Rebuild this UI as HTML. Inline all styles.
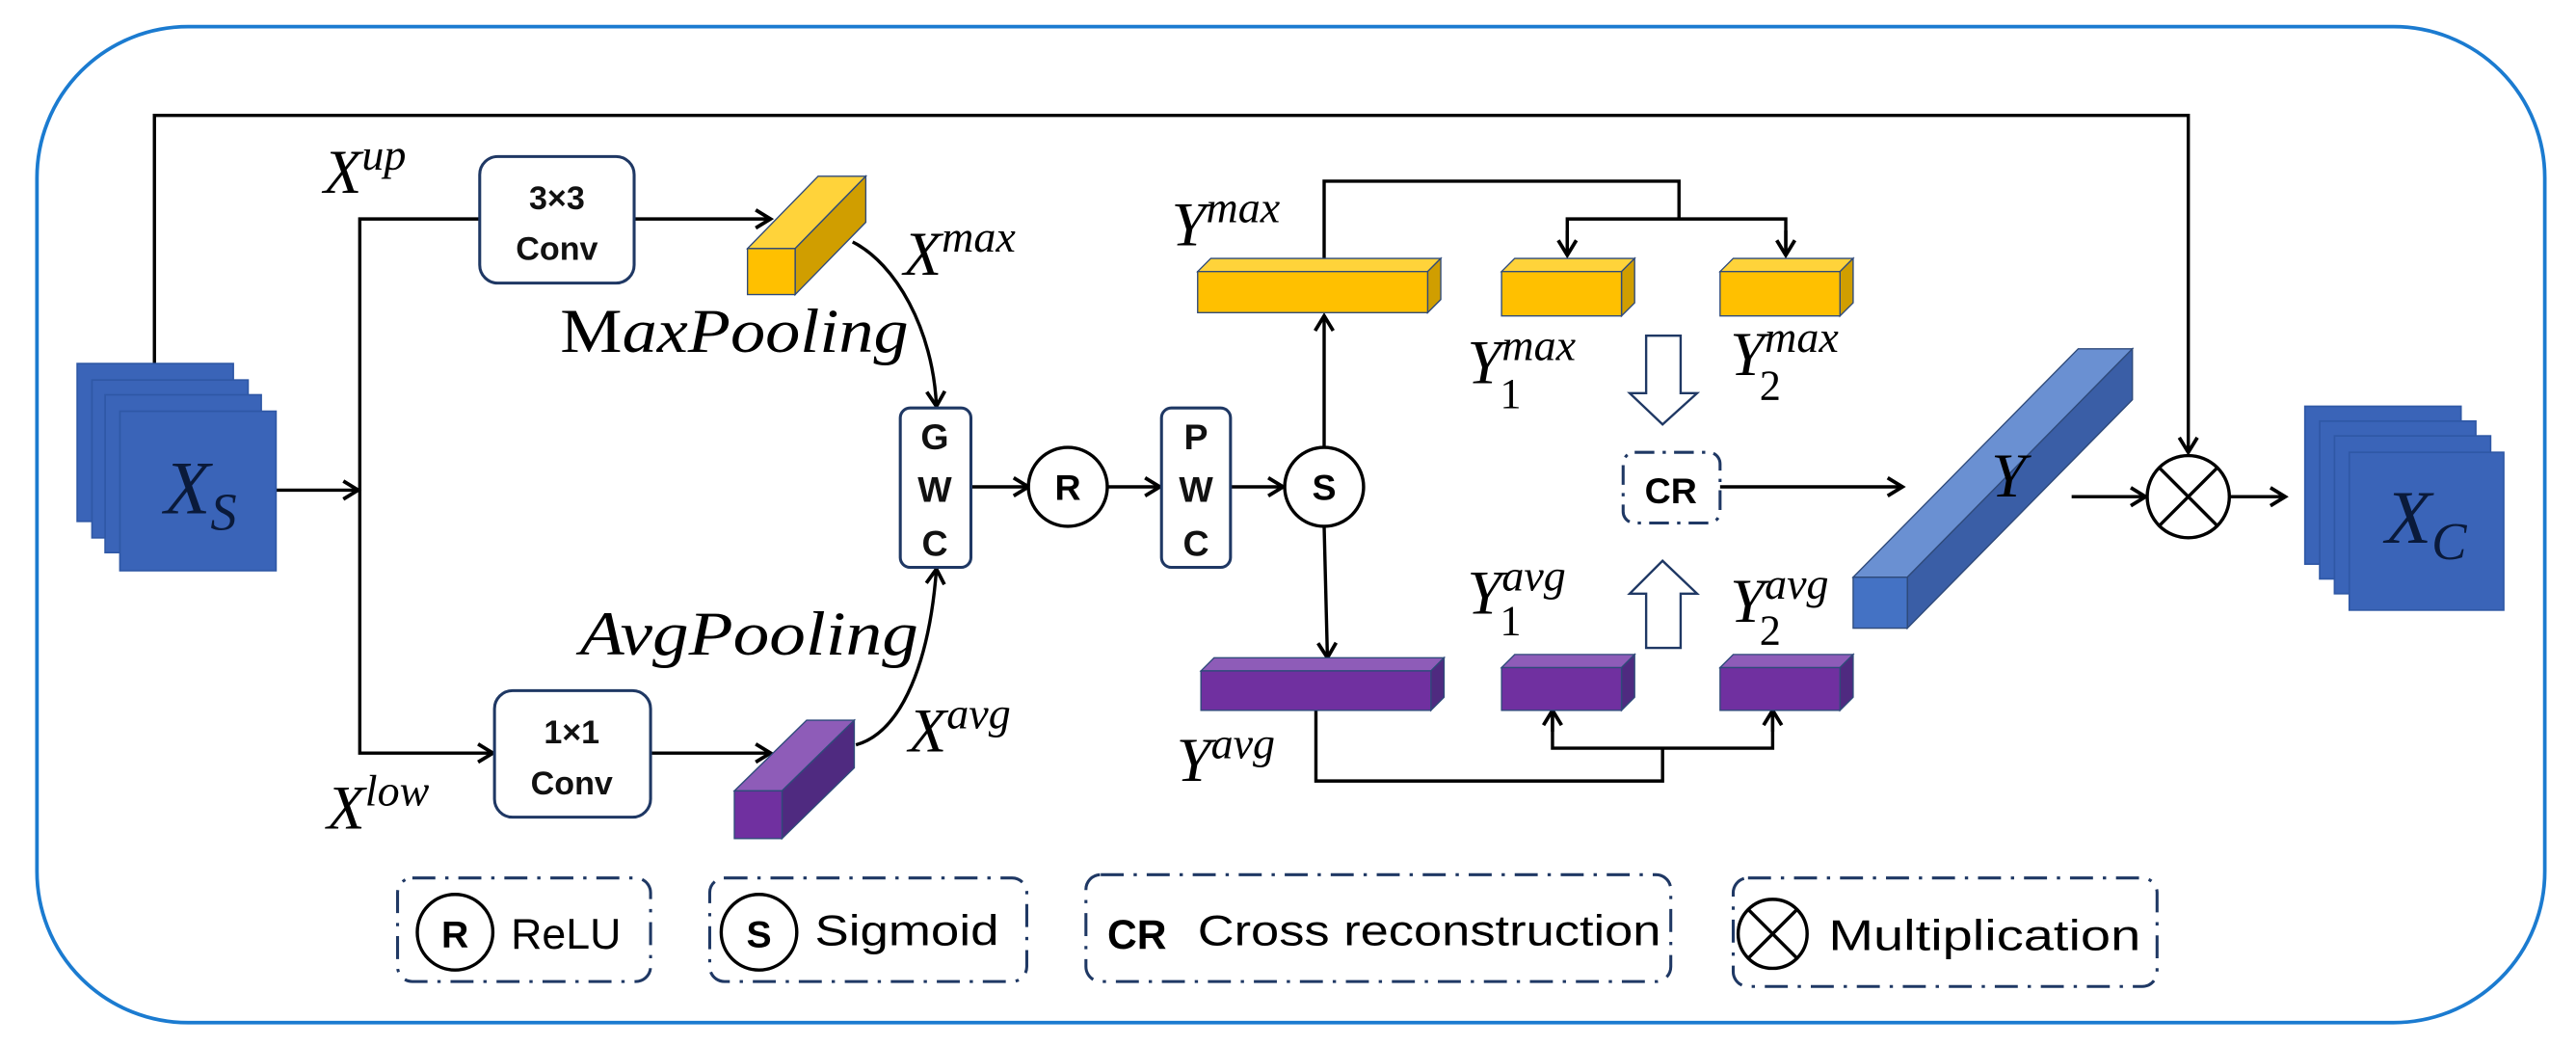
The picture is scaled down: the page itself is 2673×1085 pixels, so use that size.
<!DOCTYPE html>
<html><head><meta charset="utf-8"><style>html,body{margin:0;padding:0;background:#fff}svg{display:block}</style></head>
<body>
<svg width="2673" height="1085" viewBox="0 0 1568 636" xmlns="http://www.w3.org/2000/svg">
<defs>
<marker id="a" markerWidth="14" markerHeight="14" refX="11" refY="7" orient="auto" markerUnits="userSpaceOnUse">
<path d="M2,1.5 L11,7 L2,12.5" fill="none" stroke="#000" stroke-width="2.2"/>
</marker>
</defs>
<rect x="22.5" y="16" width="1526.5" height="606" rx="92" ry="92" fill="none" stroke="#1b7bd0" stroke-width="2.2"/>

<g fill="none" stroke="#000" stroke-width="2">
<polyline points="94,222 94,70 1332,70 1332,275" marker-end="url(#a)"/>
<line x1="168" y1="298" x2="218" y2="298" marker-end="url(#a)"/>
<polyline points="292,133 219,133 219,458 300,458" marker-end="url(#a)"/>
<line x1="386" y1="133" x2="469" y2="133" marker-end="url(#a)"/>
<line x1="396" y1="458" x2="469" y2="458" marker-end="url(#a)"/>
<path d="M519,147 C545,160 568,200 570,247" marker-end="url(#a)"/>
<path d="M521,453 C550,445 566,400 570,346" marker-end="url(#a)"/>
<line x1="591" y1="296" x2="626" y2="296" marker-end="url(#a)"/>
<line x1="674" y1="296" x2="706" y2="296" marker-end="url(#a)"/>
<line x1="749" y1="296" x2="781" y2="296" marker-end="url(#a)"/>
<line x1="806" y1="272" x2="806" y2="192" marker-end="url(#a)"/>
<line x1="806" y1="320" x2="808" y2="400" marker-end="url(#a)"/>
<polyline points="806,158 806,110 1022,110 1022,133"/>
<polyline points="954,155 954,133 1087,133 1087,155" />
<line x1="954" y1="140" x2="954" y2="155" marker-end="url(#a)"/>
<line x1="1087" y1="140" x2="1087" y2="155" marker-end="url(#a)"/>
<polyline points="801,432 801,475 1012,475 1012,455"/>
<polyline points="945,432 945,455 1079,455 1079,432"/>
<line x1="945" y1="445" x2="945" y2="432" marker-end="url(#a)"/>
<line x1="1079" y1="445" x2="1079" y2="432" marker-end="url(#a)"/>
<line x1="1047" y1="296" x2="1158" y2="296" marker-end="url(#a)"/>
<line x1="1261" y1="302" x2="1306" y2="302" marker-end="url(#a)"/>
<line x1="1357" y1="302" x2="1391" y2="302" marker-end="url(#a)"/>
</g>

<g fill="#3a64b8" stroke="#2f58a6" stroke-width="1">
<rect x="47" y="221" width="95" height="96"/>
<rect x="56" y="231" width="95" height="96"/>
<rect x="64" y="240" width="95" height="96"/>
<rect x="73" y="250" width="95" height="97"/>
</g>
<text x="100" y="312" font-family="Liberation Serif" font-style="italic" font-size="46" fill="#0a1a3a">X<tspan font-size="32" dy="10">S</tspan></text>
<g fill="#3a64b8" stroke="#2f58a6" stroke-width="1">
<rect x="1403" y="247" width="95" height="96"/>
<rect x="1412" y="256" width="95" height="96"/>
<rect x="1421" y="265" width="95" height="96"/>
<rect x="1430" y="275" width="94" height="96"/>
</g>
<text x="1452" y="330" font-family="Liberation Serif" font-style="italic" font-size="46" fill="#0a1a3a">X<tspan font-size="32" dy="10">C</tspan></text>

<g fill="#fff" stroke="#1f3864" stroke-width="1.8">
<rect x="292" y="95" width="94" height="77" rx="11"/>
<rect x="301" y="420" width="95" height="77" rx="11"/>
<rect x="548" y="248" width="43" height="97" rx="6"/>
<rect x="707" y="248" width="42" height="97" rx="6"/>
</g>
<g font-family="Liberation Sans" font-weight="bold" font-size="20" text-anchor="middle" fill="#111">
<text x="339" y="127">3×3</text><text x="339" y="158">Conv</text>
<text x="348" y="452">1×1</text><text x="348" y="483">Conv</text>
</g>
<g font-family="Liberation Sans" font-weight="bold" font-size="22" text-anchor="middle" fill="#111">
<text x="569" y="273">G</text><text x="569" y="305">W</text><text x="569" y="338">C</text>
<text x="728" y="273">P</text><text x="728" y="305">W</text><text x="728" y="338">C</text>
</g>
<g fill="#fff" stroke="#000" stroke-width="2">
<circle cx="650" cy="296" r="24"/>
<circle cx="806" cy="296" r="24"/>
<circle cx="1332" cy="302" r="25"/>
</g>
<line x1="1314" y1="284" x2="1350" y2="320" stroke="#000" stroke-width="2"/>
<line x1="1350" y1="284" x2="1314" y2="320" stroke="#000" stroke-width="2"/>
<g font-family="Liberation Sans" font-weight="bold" font-size="22" text-anchor="middle" fill="#000">
<text x="650" y="304">R</text><text x="806" y="304">S</text>
</g>

<g stroke="#2f4a7a" stroke-width="0.8">
<polygon points="455,151 498,107 527,107 484,151" fill="#ffd33a"/>
<polygon points="484,151 527,107 527,135 484,179" fill="#d09e00"/>
<rect x="455" y="151" width="29" height="28" fill="#ffc000"/>
<polygon points="447,481 491,438 520,438 476,481" fill="#8e5cb8"/>
<polygon points="476,481 520,438 520,467 476,510" fill="#4f2a80"/>
<rect x="447" y="481" width="29" height="29" fill="#7030a0"/>
<polygon points="729,165 737,157 877,157 869,165" fill="#ffd33a"/>
<polygon points="869,165 877,157 877,182 869,190" fill="#d09e00"/>
<rect x="729" y="165" width="140" height="25" fill="#ffc000"/>
<polygon points="914,165 922,157 995,157 987,165" fill="#ffd33a"/>
<polygon points="987,165 995,157 995,184 987,192" fill="#d09e00"/>
<rect x="914" y="165" width="73" height="27" fill="#ffc000"/>
<polygon points="1047,165 1055,157 1128,157 1120,165" fill="#ffd33a"/>
<polygon points="1120,165 1128,157 1128,184 1120,192" fill="#d09e00"/>
<rect x="1047" y="165" width="73" height="27" fill="#ffc000"/>
<polygon points="731,408 739,400 879,400 871,408" fill="#8e5cb8"/>
<polygon points="871,408 879,400 879,424 871,432" fill="#4f2a80"/>
<rect x="731" y="408" width="140" height="24" fill="#7030a0"/>
<polygon points="914,406 922,398 995,398 987,406" fill="#8e5cb8"/>
<polygon points="987,406 995,398 995,424 987,432" fill="#4f2a80"/>
<rect x="914" y="406" width="73" height="26" fill="#7030a0"/>
<polygon points="1047,406 1055,398 1128,398 1120,406" fill="#8e5cb8"/>
<polygon points="1120,406 1128,398 1128,424 1120,432" fill="#4f2a80"/>
<rect x="1047" y="406" width="73" height="26" fill="#7030a0"/>
<polygon points="1128,351 1265,212 1298,212 1161,351" fill="#6a90d2"/>
<polygon points="1161,351 1298,212 1298,243 1161,382" fill="#3a5ea6"/>
<rect x="1128" y="351" width="33" height="31" fill="#4472c4"/>
</g>
<text x="1212" y="302" font-family="Liberation Serif" font-style="italic" font-size="38" fill="#000">Y</text>

<g fill="#fff" stroke="#1f3864" stroke-width="1.4">
<polygon points="1002,204 1023,204 1023,239 1033,239 1012,258 992,239 1002,239"/>
<polygon points="1002,394 1023,394 1023,361 1033,361 1012,341 992,361 1002,361"/>
</g>
<rect x="988" y="275" width="59" height="43" rx="7" fill="none" stroke="#1f3864" stroke-width="1.8" stroke-dasharray="12,5,2,5"/>
<text x="1017" y="306" font-family="Liberation Sans" font-weight="bold" font-size="22" text-anchor="middle">CR</text>

<g font-family="Liberation Serif" font-style="italic" fill="#000" font-size="38">
<text x="197" y="117">X<tspan font-size="27" dy="-14">up</tspan></text>
<text x="550" y="167">X<tspan font-size="27" dy="-14">max</tspan></text>
<text x="341" y="214" textLength="212" lengthAdjust="spacingAndGlyphs"><tspan font-style="normal">M</tspan>axPooling</text>
<text x="353" y="398" textLength="206" lengthAdjust="spacingAndGlyphs">AvgPooling</text>
<text x="553" y="457">X<tspan font-size="27" dy="-14">avg</tspan></text>
<text x="199" y="504">X<tspan font-size="27" dy="-14">low</tspan></text>
<text x="713" y="149">Y<tspan font-size="27" dy="-14">max</tspan></text>
<text x="716" y="475">Y<tspan font-size="27" dy="-14">avg</tspan></text>
<text x="893" y="233">Y<tspan font-size="27" dy="-14">max</tspan></text>
<text x="1053" y="228">Y<tspan font-size="27" dy="-14">max</tspan></text>
<text x="893" y="373">Y<tspan font-size="27" dy="-14">avg</tspan></text>
<text x="1053" y="378">Y<tspan font-size="27" dy="-14">avg</tspan></text>
</g>
<g font-family="Liberation Serif" fill="#000" font-size="26">
<text x="913" y="248">1</text><text x="1071" y="243">2</text>
<text x="913" y="386">1</text><text x="1071" y="392">2</text>
</g>

<g fill="none" stroke="#1f3864" stroke-width="1.8" stroke-dasharray="14,6,2,6">
<rect x="242" y="534" width="154" height="63" rx="9"/>
<rect x="432" y="534" width="193" height="63" rx="9"/>
<rect x="661" y="532" width="356" height="65" rx="9"/>
<rect x="1055" y="534" width="258" height="66" rx="9"/>
</g>
<g fill="none" stroke="#000" stroke-width="2">
<circle cx="277" cy="567" r="23"/>
<circle cx="462" cy="567" r="23"/>
<circle cx="1079" cy="568" r="21"/>
<line x1="1064" y1="553" x2="1094" y2="583"/><line x1="1094" y1="553" x2="1064" y2="583"/>
</g>
<g font-family="Liberation Sans" font-size="26" fill="#000">
<text x="277" y="576" text-anchor="middle" font-weight="bold" font-size="23">R</text>
<text x="462" y="576" text-anchor="middle" font-weight="bold" font-size="23">S</text>
<text x="311" y="577" textLength="67" lengthAdjust="spacingAndGlyphs">ReLU</text>
<text x="496" y="575" textLength="112" lengthAdjust="spacingAndGlyphs">Sigmoid</text>
<text x="674" y="577" font-weight="bold" font-size="25">CR</text>
<text x="729" y="575" textLength="282" lengthAdjust="spacingAndGlyphs">Cross reconstruction</text>
<text x="1113" y="578" textLength="190" lengthAdjust="spacingAndGlyphs">Multiplication</text>
</g>
</svg>
</body></html>
